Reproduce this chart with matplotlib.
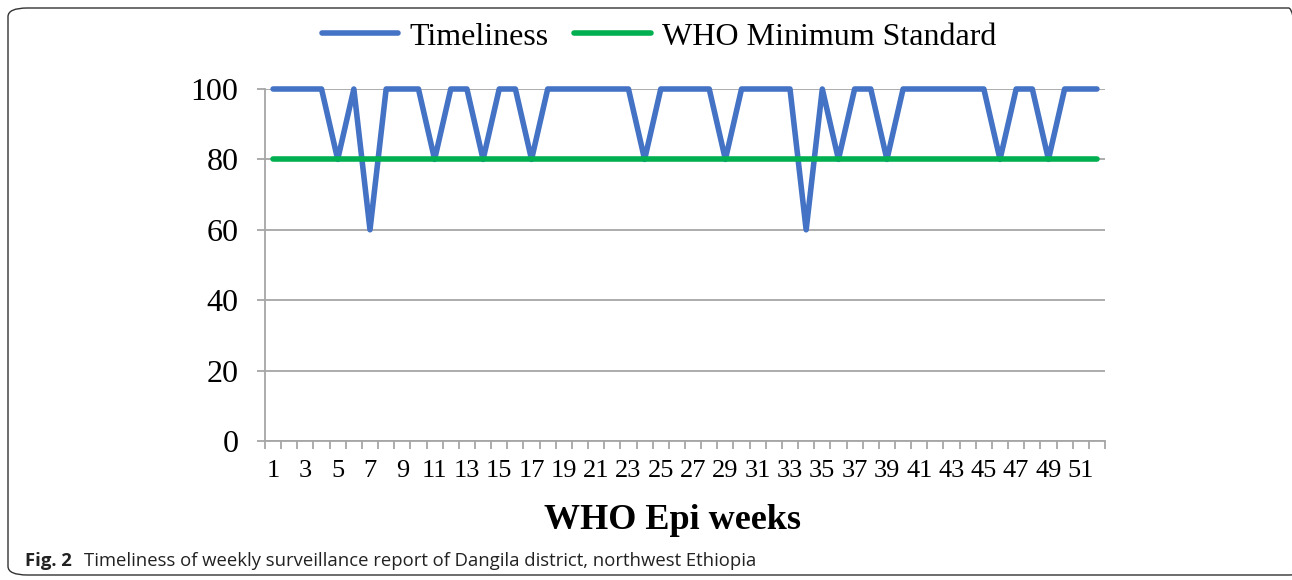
import numpy as np
import matplotlib.pyplot as plt
from matplotlib.patches import FancyBboxPatch

# Data: weekly timeliness (%) for WHO epi weeks 1-52
weeks = list(range(1, 53))
timeliness = [100, 100, 100, 100, 80, 100, 60, 100, 100, 100,
              80, 100, 100, 80, 100, 100, 80, 100, 100, 100,
              100, 100, 100, 80, 100, 100, 100, 100, 80, 100,
              100, 100, 100, 60, 100, 80, 100, 100, 80, 100,
              100, 100, 100, 100, 100, 80, 100, 100, 80, 100,
              100, 100]
who_standard = [80] * len(weeks)
y_ticks = [0, 20, 40, 60, 80, 100]
x_labels = [str(w) for w in weeks[::2]]

serif = ['Liberation Serif', 'DejaVu Serif']

fig = plt.figure(figsize=(12.92, 5.8), dpi=100)

# rounded frame around the figure
frame = FancyBboxPatch((8 / 1292, 5 / 580), 1300 / 1292, 567 / 580,
                       boxstyle='round,pad=0,rounding_size=0.015',
                       transform=fig.transFigure, fill=False,
                       edgecolor='#333333', linewidth=1.0)
fig.patches.append(frame)

ax = fig.add_axes([265 / 1292, 1 - 441 / 580, 840 / 1292, 352 / 580])

ax.plot(weeks, timeliness, color='#4472C4', linewidth=4.0, label='Timeliness',
        clip_on=False, solid_capstyle='round', zorder=3)
ax.plot(weeks, who_standard, color='#00B050', linewidth=4.0,
        label='WHO Minimum Standard', clip_on=False,
        solid_capstyle='round', zorder=4)

ax.set_xlim(0.5, 52.5)
ax.set_ylim(0, 100)

ax.set_yticks(y_ticks)
ax.set_yticklabels([str(v) for v in y_ticks], fontfamily=serif, fontsize=23)
ax.yaxis.grid(True, color='#A6A6A6', linewidth=1.3)
ax.set_axisbelow(True)

# category boundaries as small ticks, labels every second week
ax.set_xticks(np.arange(0.5, 53.5, 1.0), minor=True)
ax.set_xticks(weeks[::2])
ax.set_xticklabels(x_labels, fontfamily=serif, fontsize=19)
ax.tick_params(axis='x', which='major', length=0, pad=14)
ax.tick_params(axis='x', which='minor', length=6, color='#A6A6A6', width=1.3)
ax.tick_params(axis='y', length=6, color='#A6A6A6', width=1.3, pad=13)

for side in ['top', 'right']:
    ax.spines[side].set_visible(False)
for side in ['left', 'bottom']:
    ax.spines[side].set_color('#A6A6A6')
    ax.spines[side].set_linewidth(1.3)

ax.set_xlabel('WHO Epi weeks', fontfamily=serif, fontsize=26,
              fontweight='bold')
ax.xaxis.set_label_coords(0.485, -0.178)

fig.legend(loc='center', bbox_to_anchor=(0.51, 1 - 37 / 580), ncol=2,
           frameon=False, prop={'family': serif, 'size': 23},
           handlelength=2.4, columnspacing=0.8, handletextpad=0.35)

fig.text(25 / 1292, 1 - 561 / 580, 'Fig. 2', fontfamily='Open Sans',
         fontsize=13.3, fontweight='bold', va='center', color='#222222')
fig.text(84 / 1292, 1 - 561 / 580,
         'Timeliness of weekly surveillance report of Dangila district, northwest Ethiopia',
         fontfamily='Open Sans', fontsize=13.3, va='center', color='#222222')

fig.savefig('out.png', dpi=100)
